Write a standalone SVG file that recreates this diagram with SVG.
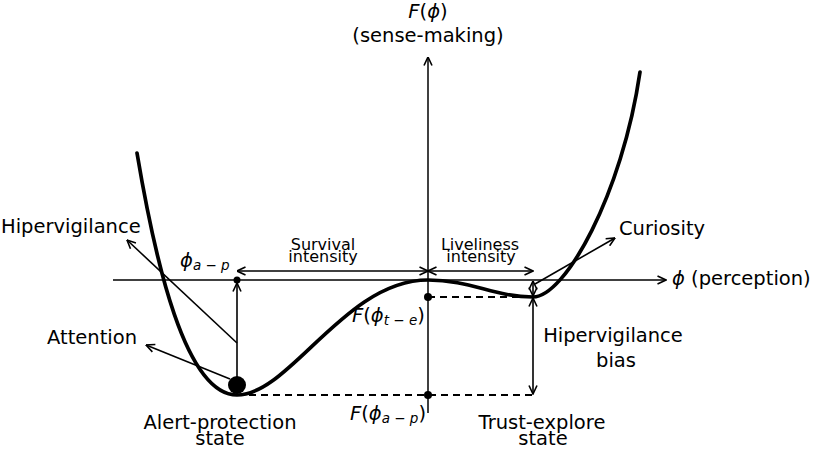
<svg xmlns="http://www.w3.org/2000/svg" width="813" height="450" viewBox="0 0 813 450">
<style>
text{font-family:"DejaVu Sans","Liberation Sans",sans-serif;fill:#000}
.lbl{font-size:19.5px}
.sm{font-size:16px}
.it{font-style:italic}
.sub{font-size:13.5px;font-style:italic}
.ax{stroke:#000;stroke-width:1.5;fill:none}
.ar{stroke:#000;stroke-width:1.6;fill:none}
.dash{stroke:#000;stroke-width:2;fill:none;stroke-dasharray:7,5}
.curve{stroke:#000;stroke-width:3.7;fill:none;stroke-linecap:round}
</style>
<defs>
<marker id="arr" viewBox="0 0 10 10" refX="9.5" refY="5" markerWidth="10" markerHeight="10" markerUnits="userSpaceOnUse" orient="auto-start-reverse">
<path d="M1,1 L9.5,5 L1,9" fill="none" stroke="#000" stroke-width="1.6"/>
</marker>
</defs>
<rect width="813" height="450" fill="#fff"/>

<g id="axes">
<line class="ax" x1="113" y1="280" x2="666" y2="280" marker-end="url(#arr)"/>
<line class="ax" x1="428" y1="413" x2="428" y2="57" marker-end="url(#arr)"/>
</g>

<g id="curve">
<path class="curve" d="M137,153 C155,260 185,395 237,395 C290,395 345,280 428,280 C470,280 495,297 533,297 C565,297 622,195 640,72"/>
</g>

<g id="connectors">
<line class="dash" x1="428" y1="297" x2="533" y2="297"/>
<line class="dash" x1="237" y1="395" x2="533" y2="395"/>
<line class="ar" x1="237" y1="395" x2="237" y2="283" marker-end="url(#arr)"/>
<line class="ar" x1="237" y1="271" x2="428" y2="271" marker-start="url(#arr)" marker-end="url(#arr)"/>
<line class="ar" x1="428" y1="271" x2="533" y2="271" marker-start="url(#arr)" marker-end="url(#arr)"/>
<line class="ar" x1="533" y1="298" x2="533" y2="394" marker-start="url(#arr)" marker-end="url(#arr)"/>
<line class="ar" x1="533" y1="281" x2="533" y2="296" marker-start="url(#arr)" marker-end="url(#arr)"/>
<line class="ar" x1="535" y1="284" x2="615" y2="238" marker-end="url(#arr)"/>
<line class="ar" x1="237" y1="343" x2="127" y2="240" marker-end="url(#arr)"/>
<line class="ar" x1="230" y1="379" x2="146" y2="345" marker-end="url(#arr)"/>
</g>

<g id="points">
<circle cx="237" cy="280" r="3.5"/>
<circle cx="428" cy="297" r="4"/>
<circle cx="428" cy="395" r="4"/>
<circle cx="237" cy="385" r="9"/>
</g>

<g id="label-F">
<text class="lbl" x="428" y="18" text-anchor="middle"><tspan class="it">F</tspan>(<tspan class="it">ϕ</tspan>)</text>
<text class="lbl" x="428" y="42" text-anchor="middle">(sense-making)</text>
</g>
<g id="label-phi">
<text class="lbl" x="672" y="285"><tspan class="it">ϕ</tspan> (perception)</text>
</g>
<g id="label-hipervigilance">
<text class="lbl" x="1" y="233">Hipervigilance</text>
</g>
<g id="label-attention">
<text class="lbl" x="47" y="344">Attention</text>
</g>
<g id="label-curiosity">
<text class="lbl" x="619" y="235">Curiosity</text>
</g>
<g id="label-alert">
<text class="lbl" x="220" y="429" text-anchor="middle">Alert-protection</text>
<text class="lbl" x="220" y="445" text-anchor="middle">state</text>
</g>
<g id="label-trust">
<text class="lbl" x="542" y="429" text-anchor="middle">Trust-explore</text>
<text class="lbl" x="543" y="445" text-anchor="middle">state</text>
</g>
<g id="label-bias">
<text class="lbl" x="613" y="342" text-anchor="middle">Hipervigilance</text>
<text class="lbl" x="616" y="367" text-anchor="middle">bias</text>
</g>
<g id="label-survival">
<text class="sm" x="323" y="250" text-anchor="middle">Survival</text>
<text class="sm" x="323" y="262" text-anchor="middle">intensity</text>
</g>
<g id="label-liveliness">
<text class="sm" x="480" y="250" text-anchor="middle">Liveliness</text>
<text class="sm" x="481" y="262" text-anchor="middle">intensity</text>
</g>
<g id="label-phi-ap">
<text class="lbl" x="180" y="267"><tspan class="it">ϕ</tspan><tspan class="sub" dy="3">a − p</tspan></text>
</g>
<g id="label-F-te">
<text class="lbl" x="352" y="322"><tspan class="it">F</tspan>(<tspan class="it">ϕ</tspan><tspan class="sub" dy="3">t − e</tspan><tspan dy="-3">)</tspan></text>
</g>
<g id="label-F-ap">
<text class="lbl" x="350" y="420"><tspan class="it">F</tspan>(<tspan class="it">ϕ</tspan><tspan class="sub" dy="3">a − p</tspan><tspan dy="-3">)</tspan></text>
</g>
</svg>
